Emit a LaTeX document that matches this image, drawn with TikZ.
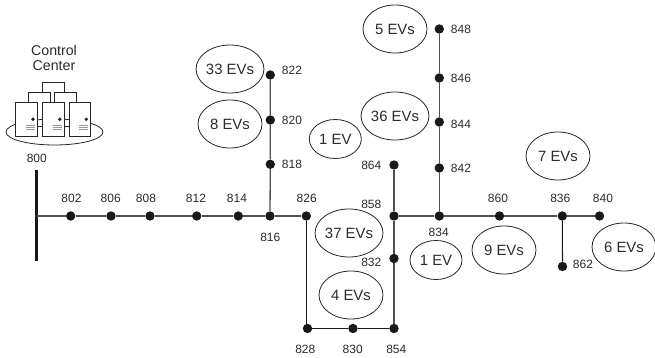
\documentclass[tikz,border=0pt]{standalone}
\usepackage{fontspec}
\setmainfont{Liberation Sans}
\definecolor{lineGray}{HTML}{505050}
\definecolor{textGray}{HTML}{2B2B2B}
\tikzset{
    busdot/.style={circle, fill=black!90, inner sep=0pt, minimum size=9.4pt},
    buslabel/.style={inner sep=0pt, font=\fontsize{12}{12}\selectfont, text=textGray},
    evbig/.style={ellipse, draw=black!85, line width=0.8pt, minimum width=64pt, minimum height=48pt, inner sep=0pt,
        font=\fontsize{14.9}{15}\selectfont, text=textGray},
    evsmall/.style={evbig, minimum width=52pt, minimum height=39pt},
    feeder/.style={lineGray, line width=1.3pt},
    lateral/.style={black!90, line width=1.1pt},
    server/.style={draw=black!85, fill=white, line width=0.8pt},
}
\usetikzlibrary{shapes.geometric}
\begin{document}
\begin{tikzpicture}[x=1pt, y=-1pt]
    \useasboundingbox (0,0) rectangle (655,358);

    % control center
    \node[inner sep=0pt, font=\fontsize{14.2}{15}\selectfont, text=textGray] (ctrl1) at (54,50) {Control};
    \node[inner sep=0pt, font=\fontsize{14.2}{15}\selectfont, text=textGray] (ctrl2) at (54,66) {Center};
    \node[ellipse, draw=black!85, line width=0.8pt, minimum width=97pt, minimum height=26pt, inner sep=0pt] (base) at (54.5,132) {};
    \draw[black!85, line width=0.8pt] (42.3,92.7) -- (42.3,82.3) -- (64.3,82.3) -- (64.3,92.7);
    \draw[black!85, line width=0.8pt] (28.3,102.7) -- (28.3,92.7) -- (50,92.7) -- (50,102.7);
    \draw[black!85, line width=0.8pt] (54.7,102.7) -- (54.7,92.7) -- (76.7,92.7) -- (76.7,102.7);
    \draw[black!85, line width=0.8pt] (37,126) -- (69,126);
    \foreach \x in {15.7, 42.5, 69} {
        \draw[server] (\x,102.7) rectangle ++(21.7,33.3);
        \fill[black!90] (\x+17.3,119.3) circle (1.8pt);
        \foreach \y in {125.7, 127.7, 129.7}
            \draw[gray!80, line width=0.7pt] (\x+10,\y) -- ++(9.3,0);
    }

    % buses
    \foreach \name/\x/\y in {802/70.7/216, 806/111/216, 808/150/216, 812/196.7/216, 814/238.3/216,
        816/270/216, 826/306.3/216, 858/394/216, 834/439.3/216, 860/499.5/216, 836/562.3/216, 840/599.5/216,
        862/562.5/266.5, 818/270.3/164.3, 820/270.3/120, 822/270.3/75,
        842/439.3/168, 844/439.3/122, 846/439.3/78, 848/439.3/29, 864/394/165,
        832/394/258.5, 854/394/328.5, 830/353/328.5, 828/307.5/328.5}
        \node[busdot] (n\name) at (\x,\y) {};

    \coordinate (busTop) at (36.8,170);
    \coordinate (busBot) at (36.8,261);
    \coordinate (busMid) at (36.8,216);
    \draw[black!90, line width=2.9pt] (busTop) -- (busBot);

    % feeders
    \draw[feeder] (busMid) -- (n802) -- (n806) -- (n808) -- (n812) -- (n814) -- (n816) -- (n826);
    \draw[feeder] (n858) -- (n834) -- (n860) -- (n836) -- (n840);
    \draw[feeder] (n816) -- (n818) -- (n820) -- (n822);
    \draw[feeder] (n834) -- (n842) -- (n844) -- (n846) -- (n848);
    \draw[feeder] (n864) -- (n858) -- (n832) -- (n854);
    \draw[lateral] (n826) -- (n826 |- n828) -- (n828);
    \draw[lateral] (n828) -- (n830) -- (n854);
    \draw[lateral] (n836) -- (n862);

    % bus numbers
    \foreach \name/\x/\y in {800/36.8/158, 802/71.5/198, 806/110.7/198, 808/146/198, 812/196/198, 814/237/198,
        826/306.7/198, 816/270.3/237, 858/371.3/204, 834/438.7/232.5, 832/371.3/262,
        828/305.3/349, 830/352.7/349, 854/396.3/349, 860/498/198, 836/560.3/198, 840/603/198, 862/583/264,
        822/292/70, 820/292/120, 818/292/164.5, 848/461/29, 846/461/78.5, 844/461/124, 842/461/168, 864/371.3/165}
        \node[buslabel] (l\name) at (\x,\y) {\name};

    % EV groups
    \node[evbig] (ev33) at (230,69) {33 EVs};
    \node[evbig] (ev8) at (230,124) {8 EVs};
    \node[evbig] (ev5) at (395,29) {5 EVs};
    \node[evbig] (ev36) at (395,116) {36 EVs};
    \node[evsmall] (ev1a) at (335.3,139) {1 EV};
    \node[evbig] (ev37) at (349,233) {37 EVs};
    \node[evbig] (ev4) at (351,295) {4 EVs};
    \node[evsmall] (ev1b) at (436,260) {1 EV};
    \node[evbig] (ev9) at (504,250) {9 EVs};
    \node[evbig] (ev7) at (558,156) {7 EVs};
    \node[evbig] (ev6) at (624,247) {6 EVs};
\end{tikzpicture}
\end{document}
